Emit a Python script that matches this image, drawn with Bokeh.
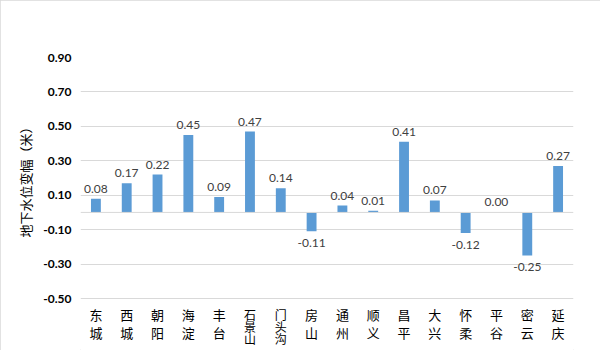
from bokeh.plotting import figure
from bokeh.models import (ColumnDataSource, FixedTicker, Span, FactorRange, Range1d,
                          CustomJSTickFormatter, Title)
from bokeh.embed import file_html
from bokeh.resources import INLINE
from bokeh.core.properties import value

districts = ["东城", "西城", "朝阳", "海淀", "丰台", "石景山", "门头沟", "房山",
             "通州", "顺义", "昌平", "大兴", "怀柔", "平谷", "密云", "延庆"]
changes = [0.08, 0.17, 0.22, 0.45, 0.09, 0.47, 0.14, -0.11,
           0.04, 0.01, 0.41, 0.07, -0.12, 0.00, -0.25, 0.27]
y_ticks = [-0.50, -0.30, -0.10, 0.10, 0.30, 0.50, 0.70, 0.90]
y_title = "地下水位变幅（米）"

labels = ["%.2f" % v for v in changes]

# layout: value axis -0.5..0.9 spans pixel rows 298..57; the frame extends
# to the bottom of the canvas so that category labels can be drawn below it
y_lo, y_hi = y_ticks[0], y_ticks[-1]
top_px, axis_bottom_px, H = 57, 298, 350
units_per_px = (y_hi - y_lo) / (axis_bottom_px - top_px)
frame_start = y_hi - (H - top_px) * units_per_px

src = ColumnDataSource(dict(x=districts, top=changes, lab=labels))
pos = ColumnDataSource(dict(x=[f for f, v in zip(districts, changes) if v >= 0],
                            y=[v for v in changes if v >= 0],
                            lab=[l for l, v in zip(labels, changes) if v >= 0]))
neg = ColumnDataSource(dict(x=[f for f, v in zip(districts, changes) if v < 0],
                            y=[v for v in changes if v < 0],
                            lab=[l for l, v in zip(labels, changes) if v < 0]))

p = figure(width=600, height=H, x_range=FactorRange(*districts, range_padding=0),
           y_range=Range1d(frame_start, y_hi), output_backend="svg", toolbar_location=None,
           min_border_left=80, min_border_right=27, min_border_top=top_px, min_border_bottom=0)
p.styles = {"outline": "1px solid #d9d9d9", "outline-offset": "-1px"}
p.outline_line_color = None
p.background_fill_color = "white"
p.border_fill_color = "white"

p.vbar(x="x", top="top", bottom=0, width=0.32, source=src, color="#5B9BD5", line_color=None)
p.add_layout(Span(location=0, dimension="width", line_color="#D9D9D9", line_width=1))

p.text(x="x", y="y", text="lab", source=pos, text_align="center", text_baseline="bottom",
       y_offset=-6, text_font=value("Lato"), text_font_size="12px", text_color="#404040")
p.text(x="x", y="y", text="lab", source=neg, text_align="center", text_baseline="top",
       y_offset=8, text_font=value("Lato"), text_font_size="12px", text_color="#404040")

# vertical (stacked) category labels below the value axis
for n, step, fs in [(2, 18, "13px"), (3, 12, "12px")]:
    xs, ys, chars, offs = [], [], [], []
    for d in districts:
        if len(d) != n:
            continue
        for i, ch in enumerate(d):
            xs.append(d)
            ys.append(y_lo)
            chars.append(ch)
            offs.append(16 + i * step)
    p.text(x="x", y="y", text="t", y_offset="o",
           source=ColumnDataSource(dict(x=xs, y=ys, t=chars, o=offs)),
           text_align="center", text_baseline="middle",
           text_font=value("Noto Sans CJK SC"), text_font_size=fs, text_color="black")

p.yaxis.ticker = FixedTicker(ticks=y_ticks)
p.yaxis.formatter = CustomJSTickFormatter(code="return tick.toFixed(2);")
p.yaxis.axis_line_color = None
p.yaxis.major_tick_line_color = None
p.yaxis.minor_tick_line_color = None
p.yaxis.major_label_text_font = "Lato"
p.yaxis.major_label_text_font_style = "bold"
p.yaxis.major_label_text_font_size = "12px"
p.yaxis.major_label_text_color = "black"
p.yaxis.major_label_standoff = 3

# y-axis title placed as a side title so it can sit beside the value axis only
p.add_layout(Title(text=y_title, align="left", offset=113, standoff=11,
                   text_font="Noto Sans CJK SC", text_font_style="normal",
                   text_font_size="13px", text_color="black"), "left")

p.xaxis.visible = False

p.xgrid.grid_line_color = None
p.ygrid.grid_line_color = "#D9D9D9"
p.ygrid.grid_line_width = 1

open("out.html", "w").write(file_html(p, INLINE))
